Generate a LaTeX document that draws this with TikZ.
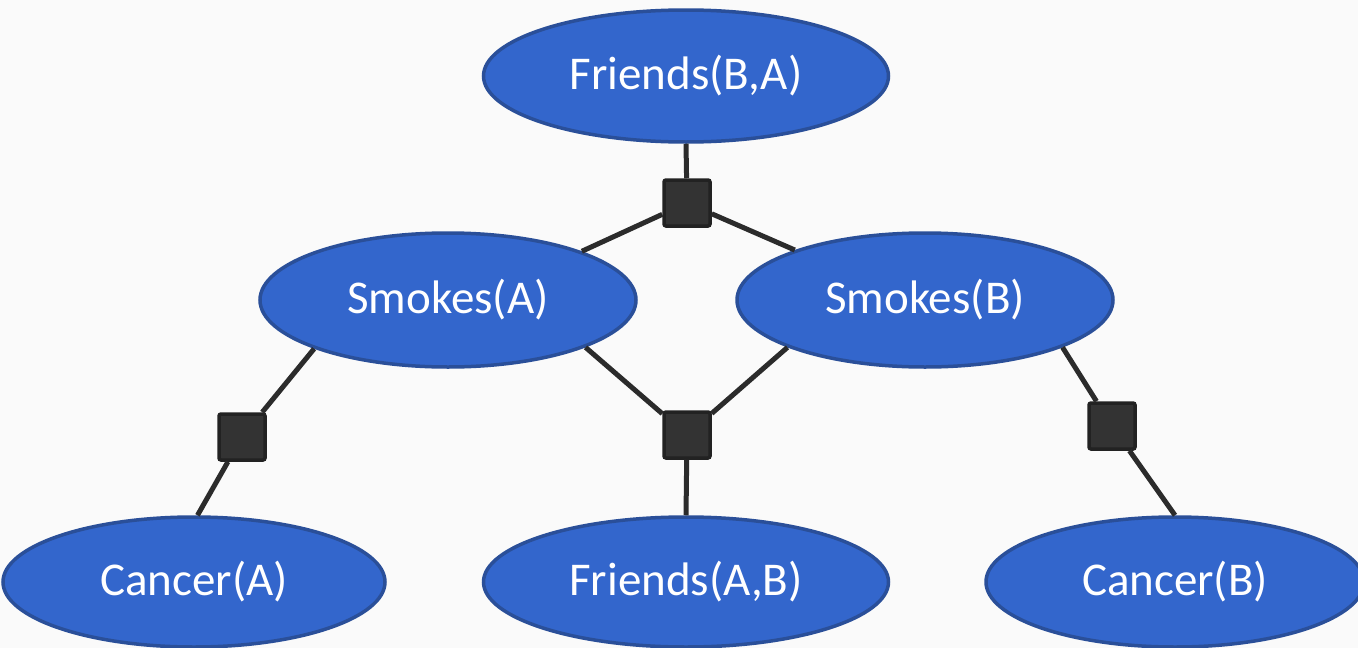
\documentclass[tikz,border=0pt]{standalone}
\usepackage{fontspec}
\setmainfont{Carlito}
\usetikzlibrary{shapes.geometric}
\definecolor{bgc}{HTML}{FAFAFA}
\definecolor{nodefill}{HTML}{3366CC}
\definecolor{nodeborder}{HTML}{2A4F99}
\definecolor{facfill}{HTML}{333333}
\definecolor{facborder}{HTML}{222222}
\definecolor{edgec}{HTML}{2B2B2B}
\tikzset{
  var/.style={ellipse, fill=nodefill, draw=nodeborder, line width=3.5pt, inner sep=0pt,
    minimum width=#1, minimum height=132pt, text=white,
    font=\fontsize{47}{56}\selectfont},
  var/.default=378pt,
  factor/.style={rectangle, fill=facfill, draw=facborder, line width=3.5pt,
    rounded corners=2pt, minimum size=46pt, inner sep=0pt},
  link/.style={draw=edgec, line width=5pt}
}
\begin{document}
\begin{tikzpicture}[x=1pt,y=-1pt]
\useasboundingbox (0,0) rectangle (1358,648);
\fill[bgc] (0,0) rectangle (1358,648);
\node[var=405pt] (fba) at (686,76) {Friends(B,A)};
\node[var=376pt, minimum height=134pt] (sa) at (448,300) {Smokes(A)};
\node[var=376pt, minimum height=134pt] (sb) at (925,300) {Smokes(B)};
\node[var=382pt, minimum height=130pt] (ca) at (194,582) {Cancer(A)};
\node[var=405pt, minimum height=130pt] (fab) at (686,582) {Friends(A,B)};
\node[var=378pt, minimum height=130pt] (cb) at (1175,582) {Cancer(B)};
\node[factor] (f1) at (687,203) {};
\node[factor] (f2) at (242,437) {};
\node[factor] (f3) at (687,435) {};
\node[factor] (f4) at (1112,426) {};
\draw[link] (fba.south) -- (f1);
\draw[link] (f1) -- (sa.20);
\draw[link] (f1) -- (sb.159);
\draw[link] (sa.200) -- (f2);
\draw[link] (f2) -- (ca.87);
\draw[link] (sa.341) -- (f3);
\draw[link] (sb.199) -- (f3);
\draw[link] (f3) -- (fab.north);
\draw[link] (sb.341) -- (f4);
\draw[link] (f4) -- (cb.north);
\end{tikzpicture}
\end{document}
